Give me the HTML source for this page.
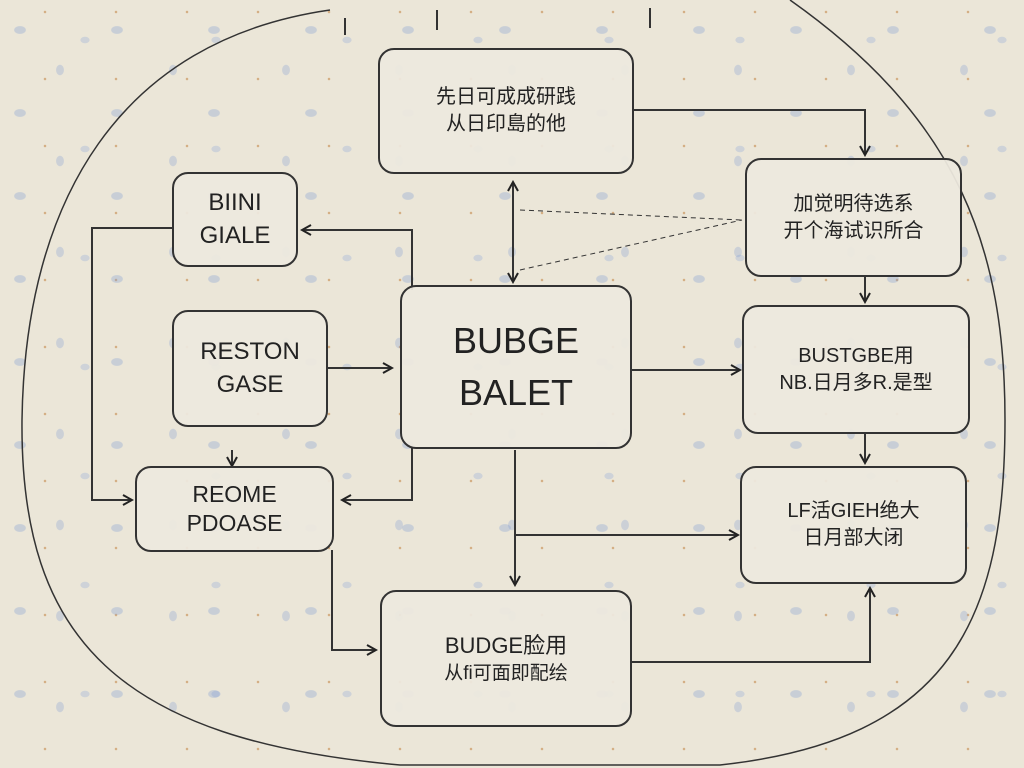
<!DOCTYPE html>
<html><head><meta charset="utf-8"><style>
html,body{margin:0;padding:0}
body{width:1024px;height:768px;overflow:hidden;position:relative;
background-color:#ebe6d8;
background-image:
radial-gradient(ellipse 9px 6px at 20px 30px,rgba(120,150,210,.3) 60%,transparent 70%),
radial-gradient(ellipse 6px 8px at 60px 70px,rgba(120,150,210,.28) 60%,transparent 70%),
radial-gradient(circle 2px at 45px 12px,rgba(190,120,50,.5) 60%,transparent 70%),
radial-gradient(ellipse 7px 5px at 85px 40px,rgba(130,160,215,.28) 60%,transparent 70%);
background-size:97px 83px,113px 91px,71px 67px,131px 109px;
font-family:"Liberation Sans","Noto Sans CJK SC",sans-serif;color:#222}
.b{position:absolute;border:2px solid #333;border-radius:16px;background:rgba(237,233,222,.94);display:flex;flex-direction:column;align-items:center;justify-content:center;text-align:center;line-height:1.35}
svg{position:absolute;left:0;top:0}
</style></head><body>
<svg width="1024" height="768" viewBox="0 0 1024 768" fill="none" stroke="#333" stroke-width="2">
<defs><marker id="a" markerWidth="12" markerHeight="12" refX="10" refY="6" orient="auto-start-reverse" markerUnits="userSpaceOnUse"><path d="M1 1 L10 6 L1 11" stroke="#222" stroke-width="2" fill="none"/></marker></defs>
<path d="M330 10 C120 40 25 200 22 420 C20 640 120 740 400 765 L720 765 C950 740 1005 620 1005 420 C1005 250 960 120 790 0" stroke-width="1.5"/>
<path d="M632 110 H865 V155" marker-end="url(#a)"/>
<path d="M513 182 V282" marker-end="url(#a)" marker-start="url(#a)"/>
<path d="M520 210 L742 220 M520 270 L742 220" stroke-dasharray="5 4" stroke-width="1"/>
<path d="M865 276 V302" marker-end="url(#a)"/>
<path d="M865 433 V463" marker-end="url(#a)"/>
<path d="M632 370 H740" marker-end="url(#a)"/>
<path d="M326 368 H392" marker-end="url(#a)"/>
<path d="M412 290 V230 H302" marker-end="url(#a)"/>
<path d="M174 228 H92 V500 H132" marker-end="url(#a)"/>
<path d="M412 447 V500 H342" marker-end="url(#a)"/>
<path d="M232 450 V466" marker-end="url(#a)"/>
<path d="M515 450 V585" marker-end="url(#a)"/>
<path d="M515 535 H738" marker-end="url(#a)"/>
<path d="M332 550 V650 H376" marker-end="url(#a)"/>
<path d="M632 662 H870 V588" marker-end="url(#a)"/>
<path d="M345 18 V35 M437 10 V30 M650 8 V28" stroke-width="2"/>
</svg>
<div class="b" style="left:378px;top:48px;width:252px;height:122px;font-size:20px">先日可成成研践<br>从日印島的他</div>
<div class="b" style="left:172px;top:172px;width:122px;height:91px;font-size:24px">BIINI<br>GIALE</div>
<div class="b" style="left:172px;top:310px;width:152px;height:113px;font-size:24px">RESTON<br>GASE</div>
<div class="b" style="left:135px;top:466px;width:195px;height:82px;font-size:23px;line-height:1.25">REOME<br>PDOASE</div>
<div class="b" style="left:400px;top:285px;width:228px;height:160px;font-size:36px;line-height:1.45">BUBGE<br>BALET</div>
<div class="b" style="left:745px;top:158px;width:213px;height:115px;font-size:20px">加觉明待选系<br>开个海试识所合</div>
<div class="b" style="left:742px;top:305px;width:224px;height:125px;font-size:20px">BUSTGBE用<br>NB.日月多R.是型</div>
<div class="b" style="left:740px;top:466px;width:223px;height:114px;font-size:20px">LF活GIEH绝大<br>日月部大闭</div>
<div class="b" style="left:380px;top:590px;width:248px;height:133px;font-size:22px">BUDGE脸用<br><span style="font-size:19px">从fi可面即配绘</span></div>
</body></html>
